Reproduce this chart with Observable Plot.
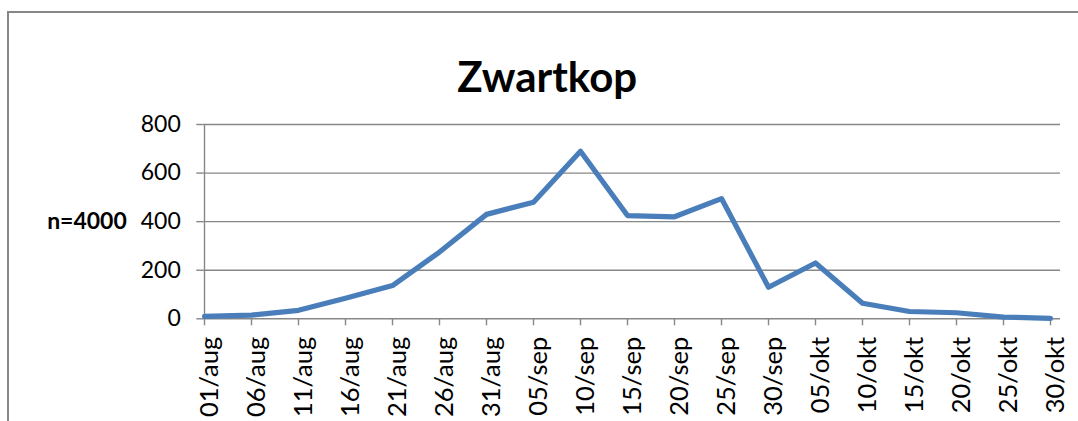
<!DOCTYPE html>
<html>
<head>
<meta charset="utf-8">
<script src="https://cdn.jsdelivr.net/npm/d3@7"></script>
<script src="https://cdn.jsdelivr.net/npm/@observablehq/plot@0.6"></script>
<style>
  html, body { margin: 0; padding: 0; background: #fff; overflow: hidden; }
  #wrap { position: relative; width: 1078px; height: 421px; overflow: hidden; }
  #frame { position: absolute; left: 7px; top: 11px; width: 1200px; height: 600px;
           border-left: 2px solid #878787; border-top: 2px solid #878787; box-sizing: border-box; }
  #chart { position: absolute; left: 0; top: 0; }
</style>
</head>
<body>
<div id="wrap"><div id="frame"></div><div id="chart"></div></div>
<script>
const title = "Zwartkop";
const yLabel = "n=4000";
const dates = ["01/aug","06/aug","11/aug","16/aug","21/aug","26/aug","31/aug",
               "05/sep","10/sep","15/sep","20/sep","25/sep","30/sep",
               "05/okt","10/okt","15/okt","20/okt","25/okt","30/okt"];
const counts = [10, 15, 35, 85, 137, 275, 430, 480, 690, 425, 420, 495, 130, 230, 64, 30, 25, 7, 2];
const yTicks = [0, 200, 400, 600, 800];

const data = dates.map((d, i) => ({date: d, count: counts[i]}));

const W = 1078, H = 421;
const mL = 203.3, mR = 18, mT = 124, mB = 102.7;
const step = 47.08;

const chart = Plot.plot({
  width: W,
  height: H,
  marginLeft: mL,
  marginRight: mR,
  marginTop: mT,
  marginBottom: mB,
  style: {fontFamily: "Lato, 'Open Sans', sans-serif", fontSize: "23px", color: "black", background: "transparent", overflow: "visible"},
  x: {type: "point", domain: dates, range: [mL, mL + step * (dates.length - 1)], padding: 0},
  y: {domain: [0, 800]},
  marks: [
    Plot.gridY(yTicks, {stroke: "#878787", strokeOpacity: 1, strokeWidth: 1.4}),
    Plot.ruleX([dates[0]], {stroke: "#878787", strokeWidth: 1.4}),
    Plot.axisY(yTicks, {tickSize: 7, tickPadding: 16, stroke: "#878787", strokeWidth: 1.4, fill: "black", label: null, fontSize: 23}),
    Plot.axisX({tickSize: 7, text: null, stroke: "#878787", strokeWidth: 1.4, label: null}),
    Plot.axisX({tickSize: 0, tickPadding: 18, tickRotate: -90, dx: 5, stroke: "none", fill: "black", label: null, fontSize: 25.5}),
    Plot.line(data, {x: "date", y: "count", stroke: "#4a7ebb", strokeWidth: 5.2, strokeLinejoin: "round", strokeLinecap: "round"}),
    Plot.text([yLabel], {frameAnchor: "left", dx: -77, textAnchor: "end", fontWeight: "bold", fontSize: 23, fill: "black"}),
    Plot.text([title], {frameAnchor: "top-left", dx: 343.4, dy: -62, textAnchor: "middle", fontWeight: "bold", fontSize: 42, fill: "black"})
  ]
});
document.getElementById("chart").appendChild(chart);
</script>
</body>
</html>
